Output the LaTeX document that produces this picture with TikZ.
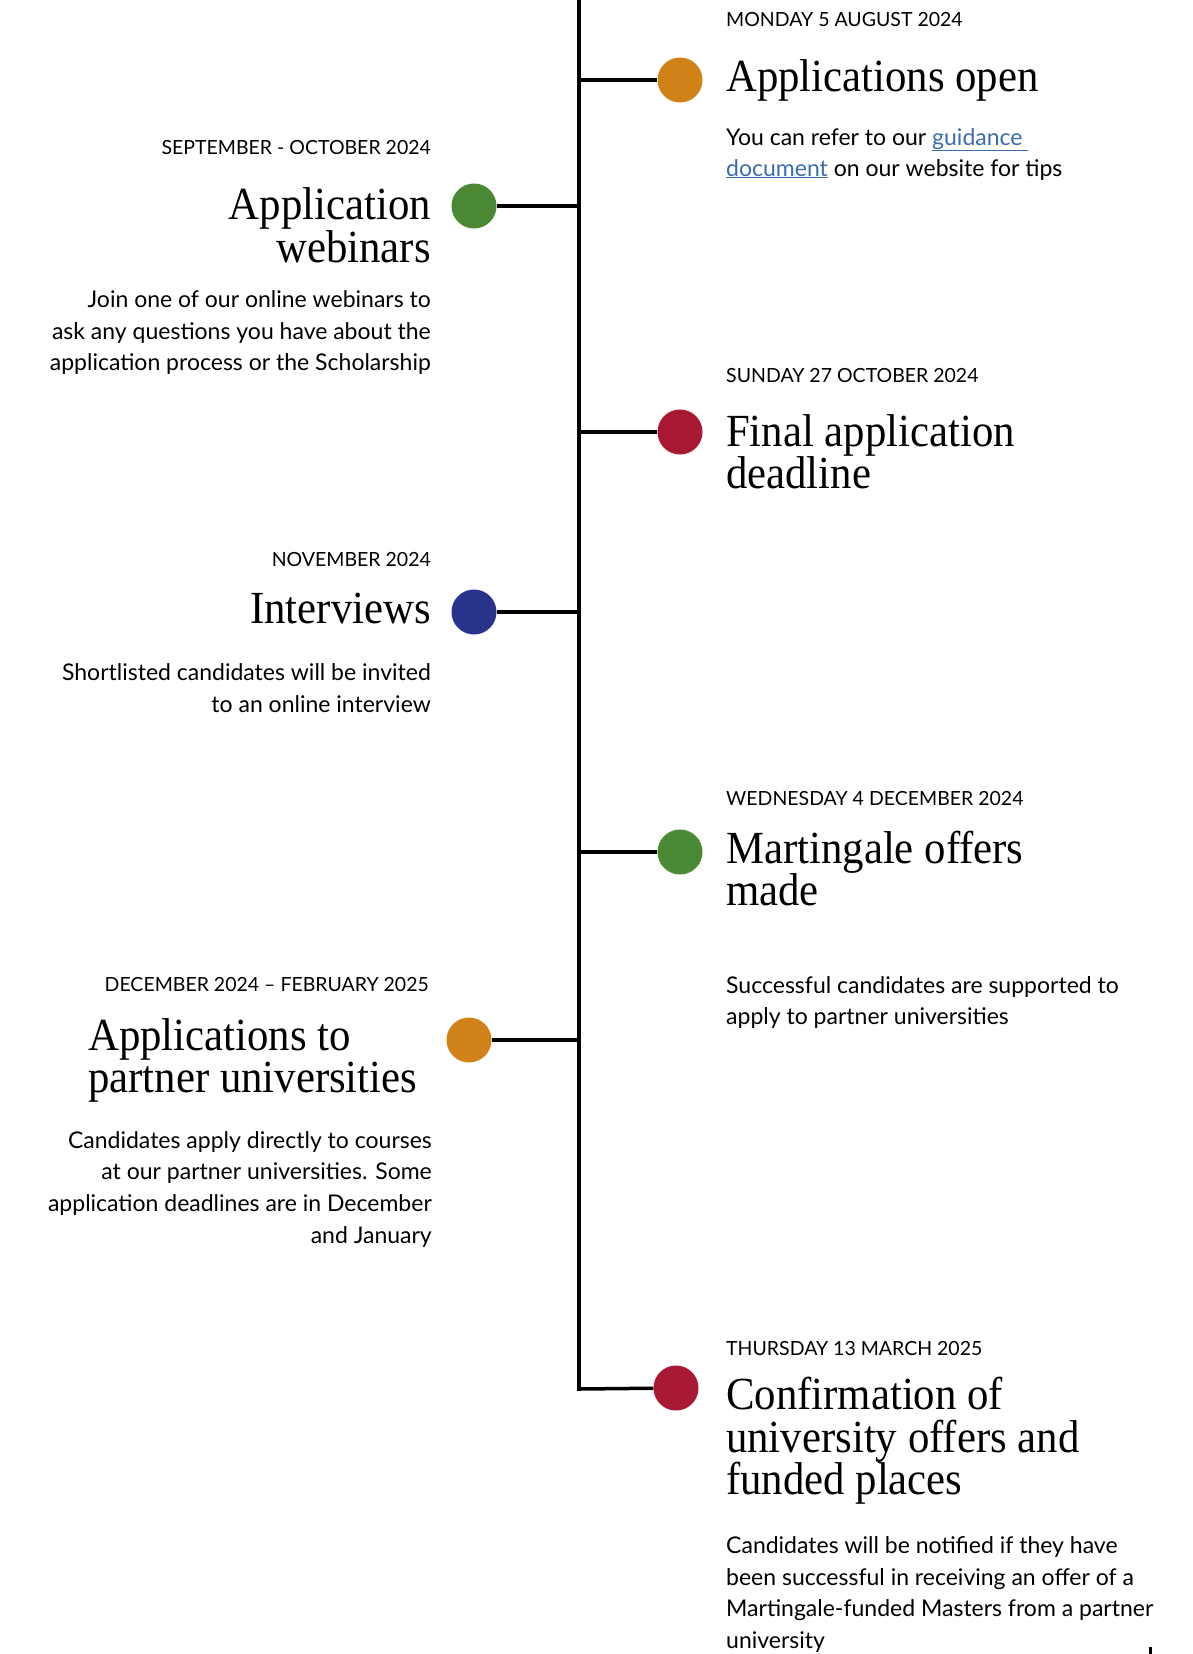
\documentclass[tikz,border=0pt]{standalone}
\usepackage{fontspec}
\setmainfont{Lato}
\newfontfamily\ttlfont[FakeStretch=0.93]{Liberation Serif}
\definecolor{corange}{RGB}{208,130,24}
\definecolor{cgreen}{RGB}{74,136,52}
\definecolor{ccrimson}{RGB}{168,24,50}
\definecolor{cnavy}{RGB}{40,52,140}
\definecolor{clink}{RGB}{58,108,176}
\tikzset{
  dot/.style={circle,inner sep=0pt,minimum size=45pt,fill=#1},
  wire/.style={line width=3.5pt,black},
  datel/.style={inner sep=0pt,anchor=base west,font=\fontsize{19.5}{22}\selectfont},
  dater/.style={inner sep=0pt,anchor=base east,font=\fontsize{19.5}{22}\selectfont},
  ttll/.style={inner sep=0pt,anchor=base west,font=\ttlfont\fontsize{46}{42}\selectfont},
  ttlr/.style={inner sep=0pt,anchor=base east,font=\ttlfont\fontsize{46}{42}\selectfont},
  bodyl/.style={inner sep=0pt,anchor=base west,font=\fontsize{23}{32}\selectfont},
  bodyr/.style={inner sep=0pt,anchor=base east,font=\fontsize{23}{32}\selectfont},
}
\begin{document}
\begin{tikzpicture}[x=1pt,y=-1pt]
\useasboundingbox (0,0) rectangle (1192,1654);
% spine
\coordinate (top) at (579,0);
\coordinate (s1) at (579,80);
\coordinate (s2) at (579,206);
\coordinate (s3) at (579,432);
\coordinate (s4) at (579,612);
\coordinate (s5) at (579,852);
\coordinate (s6) at (579,1040);
\coordinate (s7) at (579,1389);
% dots
\node[dot=corange] (c1) at (680,80) {};
\node[dot=cgreen] (c2) at (474,206) {};
\node[dot=ccrimson] (c3) at (680,432) {};
\node[dot=cnavy] (c4) at (474,612) {};
\node[dot=cgreen] (c5) at (680,852) {};
\node[dot=corange] (c6) at (469,1040) {};
\node[dot=ccrimson] (c7) at (676,1388) {};
\draw[wire,line cap=rect] (top) -- (s7);
\draw[wire] (s1) -- (c1);
\draw[wire] (s2) -- (c2);
\draw[wire] (s3) -- (c3);
\draw[wire] (s4) -- (c4);
\draw[wire] (s5) -- (c5);
\draw[wire] (s6) -- (c6);
\draw[wire] (s7) -- (c7);
% item 1
\node[datel] (d1) at (726,27) {MONDAY 5 AUGUST 2024};
\node[ttll] (t1) at (726,92) {Applications open};
\node[bodyl] (b1a) at (726,145) {You can refer to our \textcolor{clink}{\underline{guidance\ }}};
\node[bodyl] (b1b) at (726,176) {\textcolor{clink}{\underline{document}} on our website for tips};
% item 2
\node[dater] (d2) at (431,154) {SEPTEMBER - OCTOBER 2024};
\node[ttlr] (t2a) at (431,219) {Application};
\node[ttlr] (t2b) at (431,262) {webinars};
\node[bodyr] (b2a) at (431,307) {Join one of our online webinars to};
\node[bodyr] (b2b) at (431,339) {ask any questions you have about the};
\node[bodyr] (b2c) at (431,370) {application process or the Scholarship};
% item 3
\node[datel] (d3) at (726,382) {SUNDAY 27 OCTOBER 2024};
\node[ttll] (t3a) at (726,446) {Final application};
\node[ttll] (t3b) at (726,488) {deadline};
% item 4
\node[dater] (d4) at (431,566) {NOVEMBER 2024};
\node[ttlr] (t4) at (431,623) {Interviews};
\node[bodyr] (b4a) at (431,680) {Shortlisted candidates will be invited};
\node[bodyr] (b4b) at (431,712) {to an online interview};
% item 5
\node[datel] (d5) at (726,805) {WEDNESDAY 4 DECEMBER 2024};
\node[ttll] (t5a) at (726,863) {Martingale offers};
\node[ttll] (t5b) at (726,905) {made};
\node[bodyl] (b5a) at (726,993) {Successful candidates are supported to};
\node[bodyl] (b5b) at (726,1024) {apply to partner universities};
% item 6
\node[dater] (d6) at (429,991) {DECEMBER 2024 -- FEBRUARY 2025};
\node[ttll] (t6a) at (88,1050) {Applications to};
\node[ttll] (t6b) at (88,1092) {partner universities};
\node[bodyr] (b6a) at (432,1148) {Candidates apply directly to courses};
\node[bodyr] (b6b) at (432,1179) {at our partner universities. Some};
\node[bodyr] (b6c) at (432,1211) {application deadlines are in December};
\node[bodyr] (b6d) at (432,1243) {and January};
% item 7
\node[datel] (d7) at (726,1355) {THURSDAY 13 MARCH 2025};
\node[ttll] (t7a) at (726,1409) {Confirmation of};
\node[ttll] (t7b) at (726,1452) {university offers and};
\node[ttll] (t7c) at (726,1494) {funded places};
\node[bodyl] (b7a) at (726,1553) {Candidates will be notified if they have};
\node[bodyl] (b7b) at (726,1585) {been successful in receiving an offer of a};
\node[bodyl] (b7c) at (726,1616) {Martingale-funded Masters from a partner};
\node[bodyl] (b7d) at (726,1648) {university};
% stray tick
\fill[black] (1149,1647) rectangle (1152,1654);
\end{tikzpicture}
\end{document}
